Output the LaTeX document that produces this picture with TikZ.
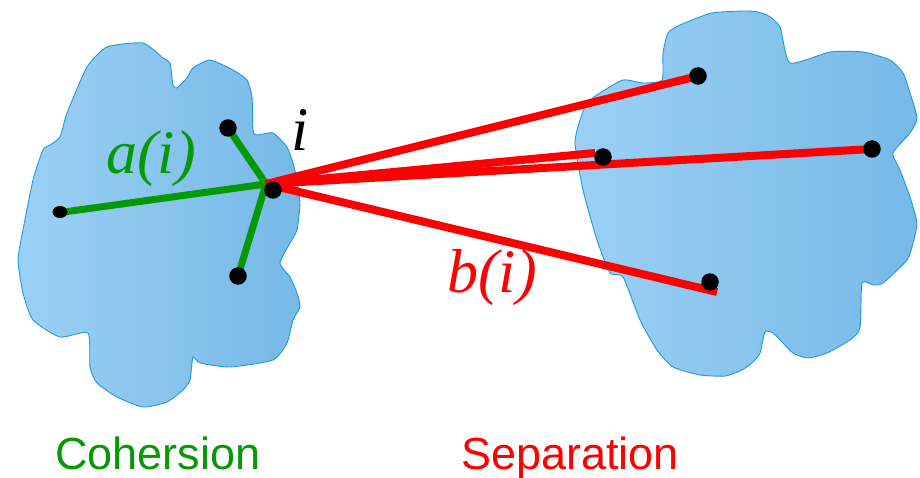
\documentclass[tikz,border=0pt]{standalone}
\usepackage{fontspec}
\usetikzlibrary{shapes.geometric}
\setmainfont{Liberation Serif}
\newfontfamily\labelsans{Liberation Sans}
\definecolor{blobL}{HTML}{9BD0F4}
\definecolor{blobR}{HTML}{76B9E7}
\definecolor{blobEdge}{HTML}{1F9AD6}
\definecolor{cgreen}{HTML}{059A05}
\definecolor{cred}{HTML}{FF0000}
\tikzset{
  blob/.style={draw=blobEdge, line width=0.9pt, left color=blobL, right color=blobR},
  dotnode/.style={circle, fill=black, inner sep=0pt, minimum size=17.5pt},
  gline/.style={draw=cgreen, line width=7pt},
  rline/.style={draw=cred, line width=8pt},
  mathlbl/.style={font=\fontsize{62}{66}\selectfont\itshape, inner sep=0pt, anchor=base},
  titlelbl/.style={font=\labelsans\fontsize{45}{48}\selectfont, inner sep=0pt, anchor=base},
}
\begin{document}
\begin{tikzpicture}[x=1pt,y=-1pt]
\useasboundingbox (0,0) rectangle (920,478);
% left cluster
\path[blob] plot[smooth cycle, tension=0.35] coordinates {
 (107,47) (143,43) (163,58) (170,63) (173,85) (177,88) (187,78) (193,68) (210,60)
 (233,70) (247,80) (252,97) (253,130) (257,135) (273,133) (287,147) (293,163)
 (297,180) (300,203) (297,230) (290,243) (280,263) (290,277) (297,293) (300,307)
 (293,320) (287,343) (273,360) (230,367) (200,363) (193,357) (190,380) (183,390)
 (167,402) (143,407) (117,397) (97,383) (90,367) (88,333) (60,337) (33,320)
 (23,293) (18,260) (23,230) (33,180) (43,150) (50,145) (60,137) (67,113) (87,67)};
% right cluster
\path[blob] plot[smooth cycle, tension=0.35] coordinates {
 (668,33) (680,25) (712,13) (750,11) (767,15) (780,27) (790,63) (830,52) (863,52)
 (890,60) (903,73) (910,93) (917,118) (910,133) (893,153) (900,170) (910,197)
 (917,223) (913,243) (907,260) (883,283) (873,285) (862,283) (860,328) (850,340)
 (827,353) (808,358) (793,353) (783,343) (773,333) (765,332) (760,353) (753,362)
 (742,370) (725,376) (700,375) (673,367) (657,350) (640,320) (623,277) (610,273)
 (597,240) (583,190) (575,143) (580,120) (587,103) (600,93) (623,80) (643,83)
 (662,80) (663,53)};
% hub and points
\coordinate (hub) at (266,184);
\coordinate (gleft) at (64,212);
\coordinate (gtop) at (228,128);
\coordinate (gbot) at (238,276);
\coordinate (rtop) at (698,76);
\coordinate (rmid) at (595,153);
\coordinate (rright) at (872,149);
\coordinate (rbot) at (717,292);
% green connectors
\path[gline] (gleft) -- (hub);
\path[gline] (gtop) -- (hub);
\path[gline] (gbot) -- (hub);
% red connectors
\path[rline] (hub) -- (rtop);
\path[rline] (hub) -- (rmid);
\path[rline] (hub) -- (rright);
\path[rline] (hub) -- (rbot);
% dots
\node[dotnode] (i) at (273,190) {};
\node[dotnode] (a1) at (gtop) {};
\node[dotnode] (a2) at (gbot) {};
\node[ellipse, fill=black, inner sep=0pt, minimum width=15pt, minimum height=12pt] (a3) at (60,212) {};
\node[dotnode] (b1) at (rtop) {};
\node[dotnode] (b2) at (603,157) {};
\node[dotnode] (b3) at (rright) {};
\node[dotnode] (b4) at (710,282) {};
% labels
\node[mathlbl, text=cgreen] (alab) at (151,174) {a(i)};
\node[mathlbl, text=black] (ilab) at (300,151) {i};
\node[mathlbl, text=cred] (blab) at (492,292) {b(i)};
\node[titlelbl, text=cgreen] (coh) at (158,469) {Cohersion};
\node[titlelbl, text=cred] (sep) at (570,469) {Separation};
\end{tikzpicture}
\end{document}
